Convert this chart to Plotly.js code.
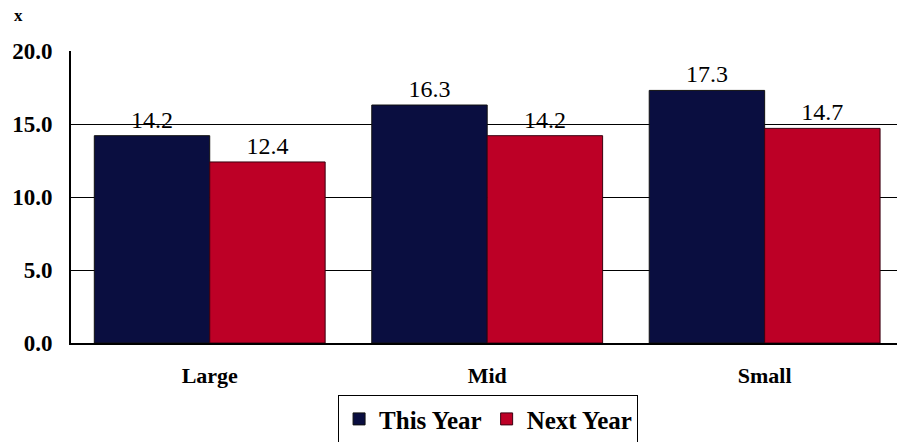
<!DOCTYPE html>
<html><head><meta charset="utf-8">
<script src="https://cdn.plot.ly/plotly-3.0.1.min.js"></script>
<style>html,body{margin:0;padding:0;background:#fff}</style>
</head><body>
<div id="chart" style="width:898px;height:442px"></div>
<script>
const categories = ["Large", "Mid", "Small"];
const thisYear = [14.2, 16.3, 17.3];
const nextYear = [12.4, 14.2, 14.7];
const yTicks = [0, 5, 10, 15, 20];
const yTickLabels = ["0.0", "5.0", "10.0", "15.0", "20.0"];

const FONT = "Liberation Serif, Times New Roman, serif";

const traces = [
  {type: "bar", name: "This Year", x: categories, y: thisYear,
   marker: {color: "#0A0E40", line: {color: "#111", width: 1}},
   text: thisYear.map(v => v.toFixed(1)), textposition: "outside",
   textfont: {family: FONT, size: 24, color: "#000"}, cliponaxis: false},
  {type: "bar", name: "Next Year", x: categories, y: nextYear,
   marker: {color: "#BD0026", line: {color: "#3a0010", width: 1}},
   text: nextYear.map(v => v.toFixed(1)), textposition: "outside",
   textfont: {family: FONT, size: 24, color: "#000"}, cliponaxis: false}
];

const layout = {
  width: 898, height: 442,
  margin: {l: 71, r: 1, t: 51, b: 99},
  paper_bgcolor: "#fff", plot_bgcolor: "#fff",
  font: {family: FONT, color: "#000"},
  barmode: "group", bargap: 0.168, bargroupgap: 0,
  showlegend: true,
  legend: {orientation: "h", xref: "container", yref: "container",
           x: 0.5435, xanchor: "center", y: 0.106, yanchor: "top",
           bordercolor: "#000", borderwidth: 1, bgcolor: "#fff",
           font: {family: FONT, size: 25, color: "#000", weight: "bold"},
           itemwidth: 30, traceorder: "normal"},
  annotations: [{text: "<b>x</b>", xref: "paper", yref: "paper", x: -0.0714, y: 1.123,
                 xanchor: "left", yanchor: "middle", showarrow: false,
                 font: {family: FONT, size: 17, color: "#000"}}],
  xaxis: {type: "category", range: [-0.5, 2.477], showgrid: false,
          tickfont: {family: FONT, size: 22, color: "#000", weight: "bold"},
          ticks: "", showline: true, linecolor: "#000", linewidth: 2,
          ticklabelstandoff: 12, fixedrange: true},
  yaxis: {range: [0, 20], tickvals: yTicks, ticktext: yTickLabels,
          showgrid: true, gridcolor: "#000", gridwidth: 1,
          zeroline: false, showline: true, linecolor: "#000", linewidth: 2,
          ticks: "", tickfont: {family: FONT, size: 23, color: "#000", weight: "bold"},
          ticklabelstandoff: 12, fixedrange: true}
};

Plotly.newPlot("chart", traces, layout, {displayModeBar: false, staticPlot: true});
</script>
</body></html>
